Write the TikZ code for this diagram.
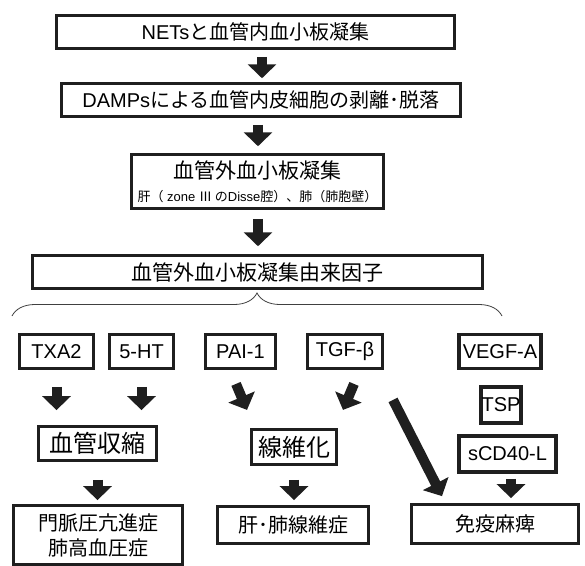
\documentclass[tikz,border=0pt]{standalone}
\usepackage{fontspec}
\setmainfont{Liberation Sans}
\newfontfamily\jp{Noto Sans CJK JP}
\newfontfamily\lat{Liberation Sans}
\usetikzlibrary{arrows.meta,decorations.pathreplacing,calc}
\begin{document}
\begin{tikzpicture}[x=1pt,y=-1pt,
  box/.style={draw=black!88, line width=3.5pt, inner sep=0pt, text=black,
    font={\jp\fontsize{20pt}{25pt}\selectfont}, align=center},
  bigtxt/.style={font={\jp\fontsize{24pt}{28pt}\selectfont}},
  sbox/.style={box, line width=3.8pt, minimum height=34pt, font={\lat\fontsize{20pt}{24pt}\selectfont}},
  blk/.style={line width=10pt, draw=black!88, -{Triangle[width=28pt,length=14pt]}},
  bracestyle/.style={draw=black!75, line width=0.8pt, decorate,
    decoration={brace, amplitude=23pt}},
  ]
\useasboundingbox (0,0) rectangle (585,565);

% top chain
\node[box, minimum width=398pt, minimum height=33pt] (b1) at (255.5,32) {{\lat NETs}と血管内血小板凝集};
\node[box, minimum width=399pt, minimum height=33pt] (b2) at (261,100) {{\lat DAMPs}による血管内皮細胞の剥離･脱落};
\node[box, minimum width=252pt, minimum height=54pt] (b3) at (257.5,181.5)
  {{\fontsize{21pt}{24pt}\selectfont 血管外血小板凝集}\\[-2pt]{\fontsize{13pt}{15pt}\selectfont 肝（{\lat\ zone }Ⅲ の{\lat Disse}腔）、肺（肺胞壁）}};
\node[box, minimum width=450pt, minimum height=33pt, font={\jp\fontsize{21pt}{25pt}\selectfont}] (b4) at (257.5,272) {血管外血小板凝集由来因子};

\draw[blk] ([xshift=6.5pt,yshift=-6.5pt]b1.south) -- ([xshift=1pt,yshift=3.5pt]b2.north);
\draw[blk] ([xshift=-3pt,yshift=-6.5pt]b2.south) -- ([xshift=0.5pt,yshift=6.5pt]b3.north);
\draw[blk] ([xshift=0.5pt,yshift=-8.5pt]b3.south) -- ([xshift=0.5pt,yshift=7.5pt]b4.north);

% brace
\coordinate (brL) at (12,316);
\coordinate (brR) at (502,316);
\draw[bracestyle] (brL) -- (brR);

% factor boxes
\node[sbox, minimum width=74pt] (txa) at (56.5,351.5) {TXA2};
\node[sbox, minimum width=64pt] (ht) at (141.5,351.5) {5-HT};
\node[sbox, minimum width=70pt] (pai) at (240.5,351.5) {PAI-1};
\node[sbox, minimum width=75pt] (tgf) at (345,351.5) {TGF-β};
\node[sbox, minimum width=82pt] (vegf) at (500,351.5) {VEGF-A};
\node[sbox, minimum width=40pt, minimum height=36pt] (tsp) at (501,405) {TSP};
\node[sbox, minimum width=97pt, minimum height=36pt] (cd) at (507.5,454) {sCD40-L};

% middle boxes
\node[box, bigtxt, line width=3.8pt, minimum width=118pt, minimum height=34pt] (vc) at (97.5,443.5) {血管収縮};
\node[box, bigtxt, line width=3.8pt, minimum width=85pt, minimum height=35pt] (sen) at (294,447) {線維化};

% bottom boxes
\node[box, line width=3.8pt, minimum width=169pt, minimum height=59pt] (mon) at (98,535) {門脈圧亢進症\\肺高血圧症};
\node[box, line width=3.8pt, minimum width=151pt, minimum height=37pt] (kan) at (293,525) {肝･肺線維症};
\node[box, line width=3.8pt, minimum width=167pt, minimum height=39pt] (men) at (495,524) {免疫麻痺};

% arrows
\draw[blk, shorten <=16.5pt, shorten >=14.5pt] (txa.south) -- (txa.south |- vc.north);
\draw[blk, shorten <=16.5pt, shorten >=14.5pt] (ht.south) -- (ht.south |- vc.north);
\draw[blk] ($(pai.south)+(-4.5,13.5)$) -- ++(11,26);
\draw[blk] ($(tgf.south)+(9,13.5)$) -- ++(-11,26);
\draw[blk] ($(tgf.south)+(48,29.5)$) -- ($(men.north)+(-53,-6.5)$);
\draw[blk, shorten <=17.5pt, shorten >=3.5pt] (vc.south) -- (vc.south |- mon.north);
\draw[blk, shorten <=13.5pt, shorten >=4.5pt] (sen.south) -- (sen.south |- kan.north);
\draw[blk, shorten <=5pt, shorten >=4.5pt] ([xshift=3.5pt]cd.south) -- ([xshift=3.5pt]cd.south |- men.north);
\end{tikzpicture}
\end{document}
